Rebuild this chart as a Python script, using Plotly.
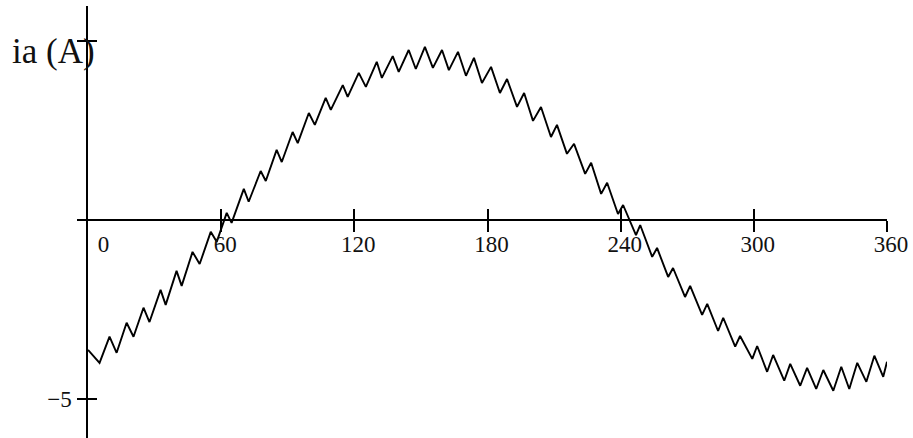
import plotly.graph_objects as go

# Phase current ia over one electrical period (vertices of the ripple waveform)
angle_deg = [
    0.0, 5.2, 9.7, 12.9, 17.4, 20.5, 25.0, 27.7, 32.7, 35.0,
    39.9, 42.2, 47.1, 50.3, 55.3, 58.0, 62.5, 64.7, 70.2, 72.4,
    77.8, 80.1, 85.0, 87.3, 92.2, 94.5, 99.5, 102.2, 107.1, 109.4,
    114.8, 117.0, 122.0, 125.2, 130.1, 132.4, 137.3, 140.0, 144.5, 147.7,
    151.8, 155.4, 159.5, 162.6, 166.7, 170.3, 173.9, 177.5, 181.6, 185.6,
    188.8, 193.3, 196.5, 200.5, 204.1, 208.6, 211.3, 215.8, 219.0, 224.0,
    226.7, 231.2, 233.9, 238.8, 241.1, 246.9, 248.8, 254.2, 256.4, 261.4,
    263.6, 269.0, 271.3, 276.7, 279.0, 283.9, 286.2, 291.6, 293.8, 299.3,
    301.5, 306.0, 308.7, 313.7, 316.4, 320.9, 324.0, 328.1, 331.3, 335.8,
    339.4, 343.0, 346.6, 350.7, 354.3, 358.3, 360.0,
]
ia_amp = [
    -3.62, -3.98, -3.25, -3.70, -2.86, -3.25, -2.44, -2.84, -1.94, -2.36,
    -1.41, -1.83, -0.88, -1.22, -0.32, -0.60, 0.21, -0.07, 0.88, 0.52,
    1.38, 1.10, 1.97, 1.63, 2.47, 2.16, 3.00, 2.67, 3.42, 3.09,
    3.78, 3.45, 4.12, 3.73, 4.43, 3.98, 4.59, 4.15, 4.76, 4.23,
    4.85, 4.26, 4.76, 4.20, 4.71, 4.04, 4.54, 3.84, 4.29, 3.56,
    3.95, 3.17, 3.56, 2.78, 3.17, 2.33, 2.67, 1.86, 2.14, 1.30,
    1.61, 0.74, 1.05, 0.18, 0.43, -0.41, -0.13, -1.02, -0.77, -1.58,
    -1.33, -2.14, -1.83, -2.64, -2.33, -3.09, -2.72, -3.53, -3.23, -3.87,
    -3.51, -4.23, -3.76, -4.48, -4.01, -4.62, -4.12, -4.71, -4.18, -4.76,
    -4.09, -4.71, -3.98, -4.51, -3.78, -4.37, -3.95,
]

x_tick_vals = [0, 60, 120, 180, 240, 300, 360]
x_tick_text = ["\u2007\u20070", "60", "120", "180", "240", "300", "360"]
y_tick_vals = [-5, 0, 5]
y_tick_text = ["\u22125", "", ""]

x_range = [0, 360]
y_range = [-6.08, 5.99]
# paper fraction where the horizontal axis (ia = 0) sits
y_zero_pos = (0 - y_range[0]) / (y_range[1] - y_range[0])

serif = "Liberation Serif, Times New Roman, serif"

fig = go.Figure()
fig.add_trace(go.Scatter(
    x=angle_deg, y=ia_amp, mode="lines",
    line=dict(color="black", width=1.9),
    hoverinfo="skip",
))
# transparent copy on the overlaid axes so they get drawn (lower/inner tick halves)
fig.add_trace(go.Scatter(
    x=angle_deg, y=ia_amp, mode="lines", xaxis="x2", yaxis="y2",
    line=dict(color="rgba(0,0,0,0)", width=1),
    hoverinfo="skip",
))

axis_common = dict(showgrid=False, zeroline=False, tickcolor="black", tickwidth=1.5)

fig.update_layout(
    width=913, height=438,
    margin=dict(l=88, r=26, t=6, b=0),
    paper_bgcolor="white", plot_bgcolor="white",
    showlegend=False,
    font=dict(family=serif, size=23, color="#111111"),
    # horizontal axis through ia = 0: labelled axis carries the upper tick halves,
    # the overlaid one the lower halves, so ticks cross the line
    xaxis=dict(
        range=x_range, anchor="free", position=y_zero_pos,
        showline=True, linecolor="black", linewidth=1.5,
        ticks="inside", ticklen=11,
        tickvals=x_tick_vals, ticktext=x_tick_text,
        ticklabelshift=4, ticklabelstandoff=3,
        **axis_common,
    ),
    xaxis2=dict(
        range=x_range, overlaying="x", anchor="free", position=y_zero_pos,
        showline=False, ticks="outside", ticklen=11,
        tickvals=x_tick_vals[1:], showticklabels=False,
        **axis_common,
    ),
    yaxis=dict(
        range=y_range, anchor="x",
        showline=True, linecolor="black", linewidth=1.5,
        ticks="outside", ticklen=9,
        tickvals=y_tick_vals, ticktext=y_tick_text,
        ticklabelstandoff=1,
        **axis_common,
    ),
    yaxis2=dict(
        range=y_range, overlaying="y", anchor="x2",
        showline=False, ticks="inside", ticklen=9,
        tickvals=y_tick_vals, showticklabels=False,
        **axis_common,
    ),
    annotations=[dict(
        text="ia (A)", xref="paper", yref="paper",
        x=-0.097, y=0.895, xanchor="left", yanchor="middle",
        showarrow=False, font=dict(family=serif, size=35, color="#111111"),
    )],
)

fig.write_html("out.html")
